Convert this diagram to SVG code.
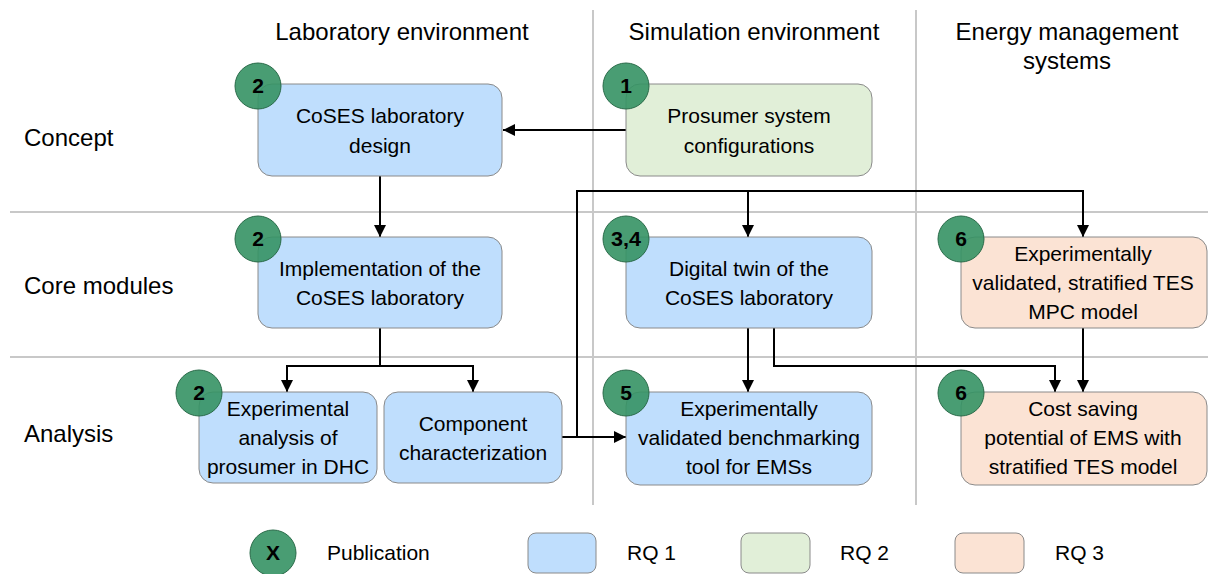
<svg xmlns="http://www.w3.org/2000/svg" width="1208" height="574" viewBox="0 0 1208 574">
<style>
text{font-family:"Liberation Sans",Arial,sans-serif;fill:#000}
.hd{font-size:24px;text-anchor:middle}
.rl{font-size:24px}
.bt{font-size:21px;text-anchor:middle}
.lg{font-size:21px}
.grid{stroke:#c8c8c8;stroke-width:2;fill:none}
.box{stroke:#8a8a8a;stroke-width:1}
.rq1{fill:#bfdefd}
.rq2{fill:#e1efd8}
.rq3{fill:#fbe3d4}
.pub{fill:#359264;fill-opacity:0.9;stroke:#2a6b49;stroke-width:1}
.pn{font-size:21px;font-weight:bold;text-anchor:middle}
.cn{stroke:#000;stroke-width:2;fill:none}
.ca{stroke:#000;stroke-width:2;fill:none;marker-end:url(#ah)}
</style>
<defs>
<marker id="ah" markerUnits="userSpaceOnUse" markerWidth="13" markerHeight="13" refX="12" refY="6.5" orient="auto">
<path d="M0,0.5 L12,6.5 L0,12.5 z" fill="#000"/>
</marker>
</defs>
<rect width="1208" height="574" fill="#fff"/>
<g id="grid">
<line class="grid" x1="10" y1="212" x2="1208" y2="212"/>
<line class="grid" x1="10" y1="357" x2="1208" y2="357"/>
<line class="grid" x1="593" y1="10" x2="593" y2="505"/>
<line class="grid" x1="916" y1="10" x2="916" y2="505"/>
</g>
<g id="headers">
<text class="hd" x="402" y="40">Laboratory environment</text>
<text class="hd" x="754" y="40">Simulation environment</text>
<text class="hd" x="1067" y="40">Energy management</text>
<text class="hd" x="1067" y="69">systems</text>
<text class="rl" x="24" y="146">Concept</text>
<text class="rl" x="24" y="294">Core modules</text>
<text class="rl" x="24" y="442">Analysis</text>
</g>
<g id="connectors">
<line class="ca" x1="626" y1="130" x2="503" y2="130"/>
<line class="ca" x1="380" y1="176" x2="380" y2="237"/>
<polyline class="cn" points="380,328 380,366"/>
<polyline class="ca" points="380,366 287,366 287,392"/>
<polyline class="ca" points="380,366 473,366 473,392"/>
<line class="ca" x1="562" y1="437" x2="626" y2="437"/>
<polyline class="ca" points="577,437 577,191 1083,191 1083,237"/>
<line class="ca" x1="748" y1="191" x2="748" y2="237"/>
<line class="ca" x1="748" y1="328" x2="748" y2="392"/>
<polyline class="ca" points="774,328 774,366 1055,366 1055,392"/>
<line class="ca" x1="1083" y1="328" x2="1083" y2="392"/>
</g>
<g id="n-design">
<rect class="box rq1" x="258" y="84" width="244" height="92" rx="14"/>
<text class="bt" x="380" y="123">CoSES laboratory</text>
<text class="bt" x="380" y="153">design</text>
<circle class="pub" cx="258" cy="86" r="23"/>
<text class="pn" x="258" y="93">2</text>
</g>
<g id="n-prosumer">
<rect class="box rq2" x="626" y="84" width="246" height="92" rx="14"/>
<text class="bt" x="749" y="123">Prosumer system</text>
<text class="bt" x="749" y="153">configurations</text>
<circle class="pub" cx="626" cy="86" r="23"/>
<text class="pn" x="626" y="93">1</text>
</g>
<g id="n-impl">
<rect class="box rq1" x="258" y="237" width="244" height="91" rx="14"/>
<text class="bt" x="380" y="276">Implementation of the</text>
<text class="bt" x="380" y="305">CoSES laboratory</text>
<circle class="pub" cx="258" cy="239" r="23"/>
<text class="pn" x="258" y="246">2</text>
</g>
<g id="n-twin">
<rect class="box rq1" x="626" y="237" width="246" height="91" rx="14"/>
<text class="bt" x="749" y="276">Digital twin of the</text>
<text class="bt" x="749" y="305">CoSES laboratory</text>
<circle class="pub" cx="626" cy="239" r="23"/>
<text class="pn" x="626" y="246" textLength="30" lengthAdjust="spacingAndGlyphs">3,4</text>
</g>
<g id="n-tesmpc">
<rect class="box rq3" x="961" y="237" width="246" height="91" rx="14"/>
<text class="bt" x="1083" y="261">Experimentally</text>
<text class="bt" x="1083" y="290">validated, stratified TES</text>
<text class="bt" x="1083" y="319">MPC model</text>
<circle class="pub" cx="961" cy="239" r="23"/>
<text class="pn" x="961" y="246">6</text>
</g>
<g id="n-exp">
<rect class="box rq1" x="199" y="392" width="178" height="91" rx="14"/>
<text class="bt" x="288" y="416">Experimental</text>
<text class="bt" x="288" y="445">analysis of</text>
<text class="bt" x="288" y="474">prosumer in DHC</text>
<circle class="pub" cx="199" cy="393" r="23"/>
<text class="pn" x="199" y="400">2</text>
</g>
<g id="n-comp">
<rect class="box rq1" x="384" y="392" width="178" height="91" rx="14"/>
<text class="bt" x="473" y="431">Component</text>
<text class="bt" x="473" y="460">characterization</text>
</g>
<g id="n-bench">
<rect class="box rq1" x="626" y="392" width="246" height="93" rx="14"/>
<text class="bt" x="749" y="416">Experimentally</text>
<text class="bt" x="749" y="445">validated benchmarking</text>
<text class="bt" x="749" y="474">tool for EMSs</text>
<circle class="pub" cx="626" cy="393" r="23"/>
<text class="pn" x="626" y="400">5</text>
</g>
<g id="n-cost">
<rect class="box rq3" x="961" y="392" width="246" height="93" rx="14"/>
<text class="bt" x="1083" y="416">Cost saving</text>
<text class="bt" x="1083" y="445">potential of EMS with</text>
<text class="bt" x="1083" y="474">stratified TES model</text>
<circle class="pub" cx="961" cy="393" r="23"/>
<text class="pn" x="961" y="400">6</text>
</g>
<g id="legend">
<circle class="pub" cx="273" cy="553" r="23"/>
<text class="pn" x="273" y="560">X</text>
<text class="lg" x="327" y="560">Publication</text>
<rect class="box rq1" x="528" y="533" width="68" height="40" rx="8"/>
<text class="lg" x="627" y="560">RQ 1</text>
<rect class="box rq2" x="741" y="533" width="69" height="40" rx="8"/>
<text class="lg" x="840" y="560">RQ 2</text>
<rect class="box rq3" x="955" y="533" width="69" height="40" rx="8"/>
<text class="lg" x="1055" y="560">RQ 3</text>
</g>
</svg>
